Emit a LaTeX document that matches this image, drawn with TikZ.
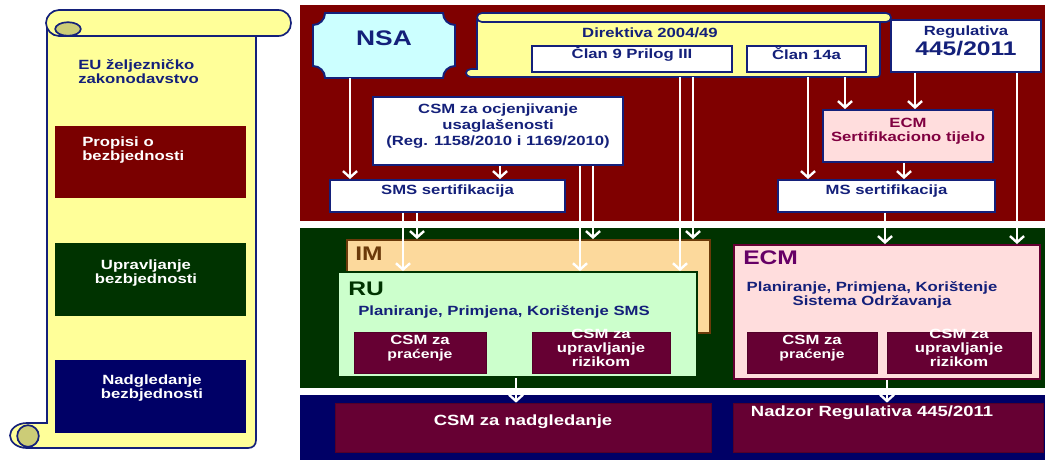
\documentclass[tikz,border=0pt]{standalone}
\usepackage{fontspec}
\setmainfont{Liberation Sans}[FakeStretch=1.25]
\usetikzlibrary{arrows.meta,fit,positioning}

\definecolor{redband}{HTML}{7F0000}
\definecolor{greenband}{HTML}{003300}
\definecolor{navyband}{HTML}{000066}
\definecolor{navytxt}{HTML}{14207A}
\definecolor{scrollyel}{HTML}{FFFF99}
\definecolor{curlolive}{HTML}{CCCC77}
\definecolor{csmred}{HTML}{660033}
\definecolor{imfill}{HTML}{FCD99C}
\definecolor{imtxt}{HTML}{6B3A0A}
\definecolor{rufill}{HTML}{CCFFCC}
\definecolor{ecmfill}{HTML}{FFDDDD}
\definecolor{ecmtxt}{HTML}{800040}
\definecolor{ecmtitle}{HTML}{660066}
\definecolor{nsafill}{HTML}{CCFFFF}
\definecolor{propred}{HTML}{7A0000}

\newcommand\lblfont{\bfseries\fontsize{9.5}{10}\selectfont}

\tikzset{
  scroll/.style={fill=scrollyel,draw=navytxt,line width=1.2pt},
  curl/.style={fill=curlolive,draw=navytxt,line width=1.2pt},
  whitebox/.style={draw=navytxt,line width=1.4pt,fill=white,inner sep=0pt,
    text=navytxt,font=\lblfont,align=center},
  lawbox/.style={fill=#1,inner sep=0pt},
  lawtxt/.style={text=white,font=\lblfont,inner sep=0pt},
  csmbox/.style={fill=csmred,draw=csmred!80!black,line width=0.5pt,inner sep=0pt,
    text=white,font=\lblfont,align=center},
  title/.style={font=\bfseries\fontsize{14}{14}\selectfont,text=#1,inner sep=0pt},
  bluetxt/.style={text=navytxt,font=\lblfont,inner sep=0pt},
  warrow/.style={draw=white,line width=1.7pt,-{Straight Barb[length=4.5pt,width=10pt]}}
}

\begin{document}
\begin{tikzpicture}[x=0.025cm,y=-0.025cm]
\useasboundingbox[fill=white] (0,0) rectangle (1049,460);

% left scroll: EU legislation
\filldraw[scroll] (47,22) -- (256,22) -- (256,440) .. controls (256,445) and (253,448) .. (248,448)
  -- (27,448) .. controls (17,448) and (10,442) .. (10,435.5) .. controls (10,429) and (17,423) .. (27,423)
  -- (47,423) -- cycle;
\filldraw[curl] (28,436) circle[radius=0.27cm];
\filldraw[scroll] (59,10) -- (278,10) .. controls (286,10) and (291,16) .. (291,23)
  .. controls (291,30) and (286,36) .. (278,36) -- (59,36) .. controls (52,36) and (46,30) .. (46,23)
  .. controls (46,16) and (52,10) .. (59,10) -- cycle;
\filldraw[curl] (68,29) ellipse[x radius=0.32cm,y radius=0.17cm];

\node[bluetxt,anchor=west,align=left] (eu) at (78,72) {EU željezničko\\zakonodavstvo};

\node[lawbox=propred,fit={(55,126) (246,198)}] (propisi) {};
\node[lawtxt,anchor=west,align=left] (propisiT) at (82,150) {Propisi o\\bezbjednosti};
\node[lawbox=greenband,fit={(55,243) (246,316)}] (upravljanje) {};
\node[lawtxt,align=center] (upravljanjeT) at (146,273) {Upravljanje\\bezbjednosti};
\node[lawbox=navyband,fit={(55,360) (246,433)}] (nadgledanje) {};
\node[lawtxt,align=center] (nadgledanjeT) at (152,388) {Nadgledanje\\bezbjednosti};

% bands
\fill[redband] (300,5) rectangle (1045,221);
\fill[greenband] (300,228) rectangle (1045,388);
\fill[navyband] (300,395) rectangle (1045,460);

% NSA
\filldraw[fill=nsafill,draw=navytxt,line width=1.4pt] (325,13) -- (443,13)
  .. controls (443,19.6) and (448.4,25) .. (455,25) -- (455,66)
  .. controls (448.4,66) and (443,71.4) .. (443,78) -- (325,78)
  .. controls (325,71.4) and (319.6,66) .. (313,66) -- (313,25)
  .. controls (319.6,25) and (325,19.6) .. (325,13) -- cycle;
\node[fit={(313,13) (455,78)},inner sep=0pt,text=navytxt,
  font=\bfseries\fontsize{15}{15}\selectfont] (nsa) {NSA};

% Directive scroll
\filldraw[scroll] (477,20) -- (880,20) -- (880,74) .. controls (880,76) and (879,77) .. (877,77)
  -- (471,77) .. controls (468,77) and (466,75) .. (466,73) .. controls (466,71) and (468,69) .. (471,69)
  -- (477,69) -- cycle;
\filldraw[scroll] (482,13) -- (886,13) .. controls (889,13) and (891,15) .. (891,17.5)
  .. controls (891,20) and (889,22) .. (886,22) -- (482,22) .. controls (479,22) and (477,20) .. (477,17.5)
  .. controls (477,15) and (479,13) .. (482,13) -- cycle;
\node[fit={(466,13) (891,77)},inner sep=0pt] (dirs) {};
\node[bluetxt] (dir) at (650,33) {Direktiva 2004/49};
\node[whitebox,fit={(532,46) (732,72)}] (clan9) {\raisebox{-1pt}{Član 9 Prilog III}};
\node[whitebox,fit={(747,46) (866,72)}] (clan14) {\raisebox{-1pt}{Član 14a}};

\node[whitebox,fit={(891,20) (1041,72)}] (reg) {Regulativa\\[1pt]{\fontsize{14}{14}\selectfont 445/2011}};

\node[whitebox,fit={(373,97) (623,165)},font=\bfseries\fontsize{9.5}{11.5}\selectfont] (csmocj)
  {CSM za ocjenjivanje\\usaglašenosti\\(Reg. 1158/2010 i 1169/2010)};
\node[whitebox,fit={(330,180) (565,212)}] (sms) {SMS sertifikacija};
\node[whitebox,fit={(823,110) (993,162)},fill=ecmfill,text=ecmtxt] (ecmcert) {ECM\\Sertifikaciono tijelo};
\node[whitebox,fit={(778,180) (995,212)}] (ms) {MS sertifikacija};

% IM / RU
\node[fit={(347,240) (710,333)},inner sep=0pt,fill=imfill,draw=imtxt,line width=1.4pt] (im) {};
\node[title=imtxt,anchor=west] (imT) at (355,254) {IM};
\node[fit={(338,272) (697,377)},inner sep=0pt,fill=rufill,draw=greenband,line width=1.2pt] (ru) {};
\node[title=greenband,anchor=west] (ruT) at (348,289) {RU};
\node[bluetxt] (ruplan) at (504,312) {Planiranje, Primjena, Korištenje SMS};
\node[csmbox,fit={(354,332) (486,373)}] (ruprac) {CSM za\\{\fontsize{9}{10}\selectfont praćenje}};
\node[csmbox,fit={(532,332) (670,373)}] (rurizik) {CSM za\\upravljanje\\rizikom};

% ECM
\node[fit={(734,245) (1040,379)},inner sep=0pt,fill=ecmfill,draw=csmred,line width=1.4pt] (ecm) {};
\node[title=ecmtitle,anchor=west] (ecmT) at (743,258) {ECM};
\node[bluetxt,align=center] (ecmplan) at (872,295) {Planiranje, Primjena, Korištenje\\Sistema Održavanja};
\node[csmbox,fit={(747,332) (877,373)}] (ecmprac) {CSM za\\{\fontsize{9}{10}\selectfont praćenje}};
\node[csmbox,fit={(887,332) (1031,373)}] (ecmrizik) {CSM za\\upravljanje\\rizikom};

% supervision
\node[csmbox,fit={(335,403) (711,452)},font=\bfseries\fontsize{10.5}{11}\selectfont] (nadg) {CSM za nadgledanje};
\node[csmbox,fit={(733,403) (1043,452)}] (nadzor) {};
\node[lawtxt,font=\bfseries\fontsize{10.5}{11}\selectfont] (nadzorT) at (872,413) {Nadzor Regulativa 445/2011};

% arrows
\coordinate (xa) at (350,0);  \coordinate (xb) at (500,0);
\coordinate (xc) at (580,0);  \coordinate (xd) at (593,0);
\coordinate (xe) at (403,0);  \coordinate (xf) at (417,0);
\coordinate (xg) at (680,0);  \coordinate (xh) at (693,0);
\coordinate (xi) at (808,0);  \coordinate (xj) at (845,0);
\coordinate (xk) at (915,0);  \coordinate (xl) at (1017,0);
\coordinate (xm) at (904,0);  \coordinate (xn) at (885,0);
\coordinate (xo) at (516,0);  \coordinate (xp) at (887,0);

\draw[warrow] (nsa.south -| xa) -- (sms.north -| xa);
\draw[warrow] (csmocj.south -| xb) -- (sms.north -| xb);
\draw[warrow] (csmocj.south -| xc) -- (ru.north -| xc);
\draw[warrow] (csmocj.south -| xd) -- (im.north -| xd);
\draw[warrow] (sms.south -| xe) -- (ru.north -| xe);
\draw[warrow] (sms.south -| xf) -- (im.north -| xf);
\draw[warrow] (dirs.south -| xg) -- (ru.north -| xg);
\draw[warrow] (dirs.south -| xh) -- (im.north -| xh);
\draw[warrow] (dirs.south -| xi) -- (ms.north -| xi);
\draw[warrow] (dirs.south -| xj) -- (ecmcert.north -| xj);
\draw[warrow] (reg.south -| xk) -- (ecmcert.north -| xk);
\draw[warrow] (reg.south -| xl) -- (ecm.north -| xl);
\draw[warrow] (ecmcert.south -| xm) -- (ms.north -| xm);
\draw[warrow] (ms.south -| xn) -- (ecm.north -| xn);
\draw[warrow] (ru.south -| xo) -- (nadg.north -| xo);
\draw[warrow] (ecm.south -| xp) -- (nadzor.north -| xp);
\end{tikzpicture}
\end{document}
